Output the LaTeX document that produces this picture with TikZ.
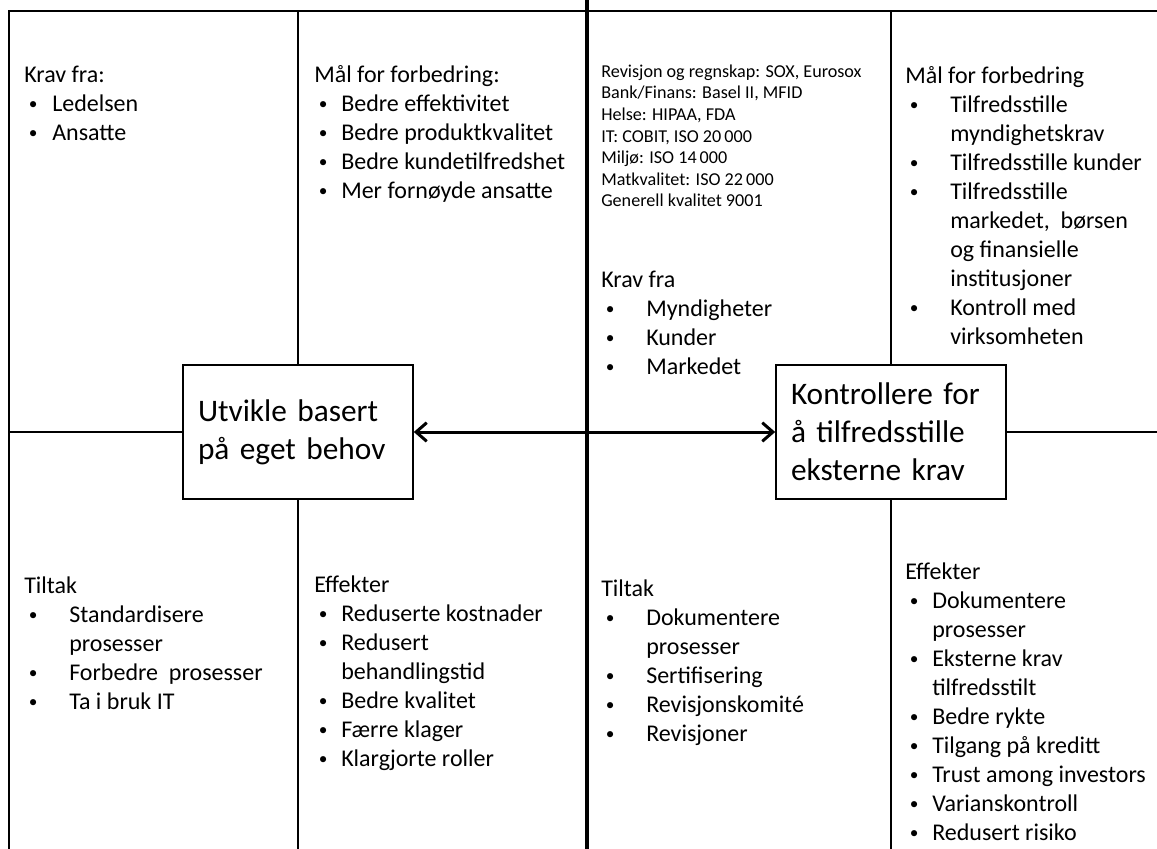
\documentclass[tikz,border=0pt]{standalone}
\usepackage{fontspec}
\setmainfont{Carlito}
\usetikzlibrary{arrows.meta,positioning}

\newcommand{\bul}[1]{\makebox[#1][l]{\hspace{3.5pt}\raisebox{1.3pt}{\fontsize{13}{13}\selectfont\textbullet}}}
\newcommand{\cnt}[1]{\hspace*{#1}}

\tikzset{
  panel/.style={anchor=north west, inner sep=0pt, align=left, font=\fontsize{18}{21.75}\selectfont},
  small/.style={panel, font=\fontsize{13.6}{16.2}\selectfont},
  mainbox/.style={draw, line width=1.2pt, fill=white, text width=150pt, inner xsep=11.25pt,
    minimum height=100.5pt, align=left, font=\fontsize{23.5}{28.5}\selectfont},
  thin/.style={line width=1.2pt},
}

\begin{document}
\begin{tikzpicture}[x=0.75pt, y=-0.75pt]
\useasboundingbox (0,0) rectangle (1157,849);

% the two main boxes
\node[mainbox] (utvikle) at (298,432) {Utvikle basert\\på eget behov};
\node[mainbox] (kontroll) at (891,432) {Kontrollere for\\å tilfredsstille\\eksterne krav};

\coordinate (tl) at (9,11);
\coordinate (tr) at (1157,11);
\coordinate (bl) at (9,849);
\coordinate (ml) at (9,432);
\coordinate (mr) at (1157,432);
\coordinate (c1t) at (298,11);
\coordinate (c1b) at (298,849);
\coordinate (c3t) at (891,11);
\coordinate (c3b) at (891,849);
\coordinate (midt) at (587,0);
\coordinate (midb) at (587,849);

% frame and dividers
\draw[thin] (bl) -- (tl) -- (tr);
\draw[thin] (c1t) -- (utvikle.north);
\draw[thin] (utvikle.south) -- (c1b);
\draw[thin] (c3t) -- (kontroll.north);
\draw[thin] (kontroll.south) -- (c3b);
\draw[thin] (ml) -- (utvikle.west);
\draw[line width=1.6pt] (kontroll.east) -- (mr);
\draw[line width=3.5pt] (midt) -- (midb);
\draw[line width=2.25pt, {Straight Barb[length=8pt,width=14pt]}-{Straight Barb[length=8pt,width=14pt]}]
  (utvikle.east) -- (kontroll.west);

% upper half
\node[panel] (kravint) at (24,62) {\strut Krav fra:\\ \bul{21pt}Ledelsen\\ \bul{21pt}Ansatte};
\node[panel] (maalint) at (314,62) {\strut Mål for forbedring:\\ \bul{20.25pt}Bedre effektivitet\\
  \bul{20.25pt}Bedre produktkvalitet\\ \bul{20.25pt}Bedre kundetilfredshet\\ \bul{20.25pt}Mer fornøyde ansatte};
\node[small] (normer) at (601,62) {\strut Revisjon og regnskap: SOX, Eurosox\\ Bank/Finans: Basel II, MFID\\
  Helse: HIPAA, FDA\\ IT: COBIT, ISO 20\,000\\ Miljø: ISO 14\,000\\ Matkvalitet: ISO 22\,000\\ Generell kvalitet 9001};
\node[panel] (kravext) at (601,267) {\strut Krav fra\\ \bul{33.75pt}Myndigheter\\ \bul{33.75pt}Kunder\\ \bul{33.75pt}Markedet};
\node[panel] (maalext) at (905,63) {\strut Mål for forbedring\\ \bul{33.75pt}Tilfredsstille\\ \cnt{33.75pt}myndighetskrav\\
  \bul{33.75pt}Tilfredsstille kunder\\ \bul{33.75pt}Tilfredsstille\\ \cnt{33.75pt}markedet,~ børsen\\
  \cnt{33.75pt}og finansielle\\ \cnt{33.75pt}institusjoner\\ \bul{33.75pt}Kontroll med\\ \cnt{33.75pt}virksomheten};

% lower half
\node[panel] (tiltakint) at (24,573) {\strut Tiltak\\ \bul{33.75pt}Standardisere\\ \cnt{33.75pt}prosesser\\
  \bul{33.75pt}Forbedre~ prosesser\\ \bul{33.75pt}Ta i bruk IT};
\node[panel] (effint) at (314,572) {\strut Effekter\\ \bul{20.25pt}Reduserte kostnader\\ \bul{20.25pt}Redusert\\
  \cnt{20.25pt}behandlingstid\\ \bul{20.25pt}Bedre kvalitet\\ \bul{20.25pt}Færre klager\\ \bul{20.25pt}Klargjorte roller};
\node[panel] (tiltakext) at (601,576) {\strut Tiltak\\ \bul{33.75pt}Dokumentere\\ \cnt{33.75pt}prosesser\\
  \bul{33.75pt}Sertifisering\\ \bul{33.75pt}Revisjonskomité\\ \bul{33.75pt}Revisjoner};
\node[panel] (effext) at (905,559) {\strut Effekter\\ \bul{20.25pt}Dokumentere\\ \cnt{20.25pt}prosesser\\
  \bul{20.25pt}Eksterne krav\\ \cnt{20.25pt}tilfredsstilt\\ \bul{20.25pt}Bedre rykte\\ \bul{20.25pt}Tilgang på kreditt\\
  \bul{20.25pt}Trust among investors\\ \bul{20.25pt}Varianskontroll\\ \bul{20.25pt}Redusert risiko};
\end{tikzpicture}
\end{document}
